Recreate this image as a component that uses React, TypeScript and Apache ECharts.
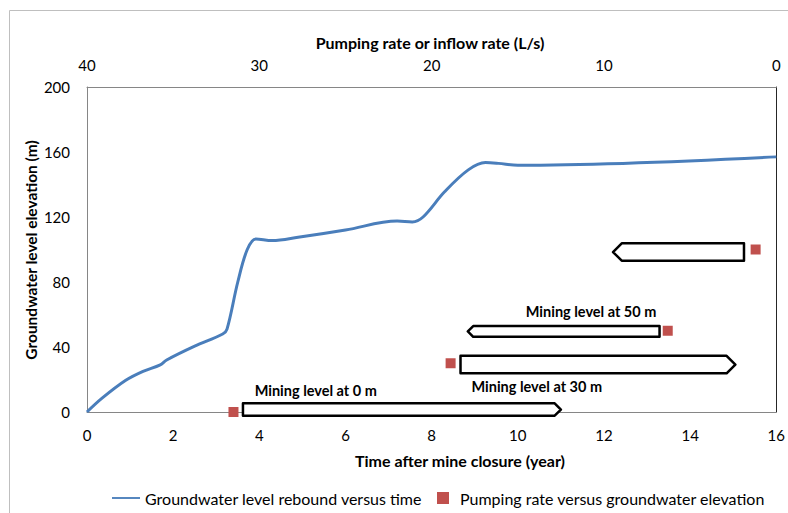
import React, { useEffect, useRef } from "react";
import * as echarts from "echarts";

// Groundwater level rebound versus time (x: years, y: m)
const reboundTime = [0, 0.35, 0.9, 1.3, 1.7, 1.85, 2.5, 3.15, 3.25, 3.5, 3.72, 3.92, 4.3, 4.9, 6, 7.2, 7.55, 7.8, 8.3, 8.85, 9.25, 9.55, 10, 16];
const reboundLevel = [0, 8.5, 19.5, 25, 29, 32, 40.5, 48, 51, 80, 100, 106.5, 105.5, 107.5, 112, 117.5, 117, 120, 135.5, 149, 153.5, 153, 151.8, 157];

// Pumping rate (L/s) versus groundwater elevation (m)
const pumpingRate = [31.5, 18.9, 6.3, 1.2];
const pumpingElevation = [0, 30, 50, 100];

// Block-arrow annotations (x in years, y in m)
const arrowTail = [3.62, 8.67, 13.29, 15.25];
const arrowTip = [11.0, 15.05, 8.84, 12.21];
const arrowLow = [-2.3, 23.8, 46.3, 93.1];
const arrowHigh = [5.35, 34.6, 52.9, 103.8];

// Annotation labels
const labelText = ["Mining level at 0 m", "Mining level at 30 m", "Mining level at 50 m"];
const labelX = [5.31, 10.44, 11.7];
const labelY = [13.5, 15.6, 61.7];

// Axis ticks
const timeTicks = { min: 0, max: 16, interval: 2 };
const rateTicks = { min: 0, max: 40, interval: 10 };
const levelTicks = { min: 0, max: 200, interval: 40 };

const LINE_NAME = "Groundwater level rebound versus time";
const PUMP_NAME = "Pumping rate versus groundwater elevation";

const FONT = "Lato, 'Open Sans', sans-serif";

export default function App() {
  const ref = useRef<HTMLDivElement>(null);
  useEffect(() => {
    if (!ref.current) return;
    const chart = echarts.init(ref.current, undefined, { renderer: "svg" });
    const axisLabel = { color: "#000", fontSize: 15, fontFamily: FONT };
    const legendText = { color: "#000", fontSize: 16, fontFamily: FONT };
    const option: any = {
      animation: false,
      backgroundColor: "#fff",
      textStyle: { fontFamily: FONT },
      grid: { left: 87, right: 8, top: 87, bottom: 101, containLabel: false },
      xAxis: [
        {
          type: "value",
          position: "bottom",
          ...timeTicks,
          axisLine: { show: true, onZero: false, lineStyle: { color: "#868686", width: 1 } },
          axisTick: { show: false },
          splitLine: { show: false },
          axisLabel: { ...axisLabel, margin: 15 },
        },
        {
          type: "value",
          position: "top",
          inverse: true,
          ...rateTicks,
          axisLine: { show: true, onZero: false, lineStyle: { color: "#868686", width: 1 } },
          axisTick: { show: false },
          splitLine: { show: false },
          axisLabel: { ...axisLabel, margin: 15 },
        },
      ],
      yAxis: [
        {
          type: "value",
          position: "left",
          ...levelTicks,
          axisLine: { show: true, onZero: false, lineStyle: { color: "#868686", width: 1 } },
          axisTick: { show: false },
          splitLine: { show: false },
          axisLabel: { ...axisLabel, margin: 17 },
        },
        {
          type: "value",
          position: "right",
          ...levelTicks,
          axisLine: { show: true, onZero: false, lineStyle: { color: "#262626", width: 1 } },
          axisTick: { show: false },
          splitLine: { show: false },
          axisLabel: { show: false },
        },
      ],
      legend: [
        {
          left: 107,
          top: 485,
          itemWidth: 28,
          itemHeight: 12,
          textStyle: legendText,
          data: [{ name: LINE_NAME, icon: "path://M0,5 L30,5 L30,7 L0,7 Z" }],
        },
        {
          left: 432,
          top: 485,
          itemWidth: 12,
          itemHeight: 12,
          textStyle: { ...legendText, padding: [0, 0, 0, 6] },
          data: [{ name: PUMP_NAME, icon: "rect" }],
        },
      ],
      graphic: [
        {
          type: "rect",
          silent: true,
          shape: { x: 9.5, y: 10.5, width: 900, height: 600 },
          style: { fill: "none", stroke: "#BFBFBF", lineWidth: 1 },
        },
        {
          type: "text",
          x: 430,
          y: 42,
          style: {
            text: "Pumping rate or inflow rate (L/s)",
            fill: "#000",
            font: `bold 16px ${FONT}`,
            align: "center",
            verticalAlign: "middle",
          },
        },
        {
          type: "text",
          x: 460,
          y: 460,
          style: {
            text: "Time after mine closure (year)",
            fill: "#000",
            font: `bold 16px ${FONT}`,
            align: "center",
            verticalAlign: "middle",
          },
        },
        {
          type: "text",
          x: 31,
          y: 250,
          rotation: Math.PI / 2,
          style: {
            text: "Groundwater level elevation (m)",
            fill: "#000",
            font: `bold 15.5px ${FONT}`,
            align: "center",
            verticalAlign: "middle",
          },
        },
      ],
      series: [
        {
          name: LINE_NAME,
          type: "line",
          xAxisIndex: 0,
          yAxisIndex: 0,
          smooth: 0.35,
          showSymbol: false,
          symbol: "none",
          lineStyle: { color: "#4A7EBB", width: 3 },
          itemStyle: { color: "#4A7EBB" },
          data: reboundTime.map((t, i) => [t, reboundLevel[i]]),
          z: 3,
        },
        {
          name: PUMP_NAME,
          type: "scatter",
          xAxisIndex: 1,
          yAxisIndex: 0,
          symbol: "rect",
          symbolSize: 10,
          clip: false,
          itemStyle: { color: "#C0504D", opacity: 1 },
          data: pumpingRate.map((r, i) => [r, pumpingElevation[i]]),
          z: 4,
        },
        {
          type: "custom",
          xAxisIndex: 0,
          yAxisIndex: 0,
          clip: false,
          silent: true,
          encode: { x: [0, 1], y: [2, 3] },
          data: arrowTail.map((t, i) => [t, arrowTip[i], arrowLow[i], arrowHigh[i]]),
          renderItem: (params: any, api: any) => {
            const a = api.coord([api.value(0), api.value(3)]);
            const b = api.coord([api.value(1), api.value(2)]);
            const tailX = a[0];
            const tipX = b[0];
            const yTop = a[1];
            const yBot = b[1];
            const h = yBot - yTop;
            const head = h * 0.5;
            const dir = tipX > tailX ? 1 : -1;
            const yMid = (yTop + yBot) / 2;
            return {
              type: "polygon",
              shape: {
                points: [
                  [tailX, yTop],
                  [tipX - dir * head, yTop],
                  [tipX, yMid],
                  [tipX - dir * head, yBot],
                  [tailX, yBot],
                ],
              },
              style: { fill: "#fff", stroke: "#000", lineWidth: 2.5, lineJoin: "round" },
            };
          },
          z: 2,
        },
        {
          type: "custom",
          xAxisIndex: 0,
          yAxisIndex: 0,
          clip: false,
          silent: true,
          data: labelText.map((t, i) => [labelX[i], labelY[i], t]),
          renderItem: (params: any, api: any) => {
            const p = api.coord([api.value(0), api.value(1)]);
            return {
              type: "text",
              x: p[0],
              y: p[1],
              style: {
                text: labelText[params.dataIndex],
                fill: "#000",
                font: `bold 14.5px ${FONT}`,
                align: "center",
                verticalAlign: "middle",
              },
            };
          },
          z: 5,
        },
      ],
    };
    chart.setOption(option);
    return () => chart.dispose();
  }, []);
  return (
    <div
      ref={ref}
      style={{ position: "absolute", left: 0, top: 0, width: 788, height: 513 }}
    />
  );
}
